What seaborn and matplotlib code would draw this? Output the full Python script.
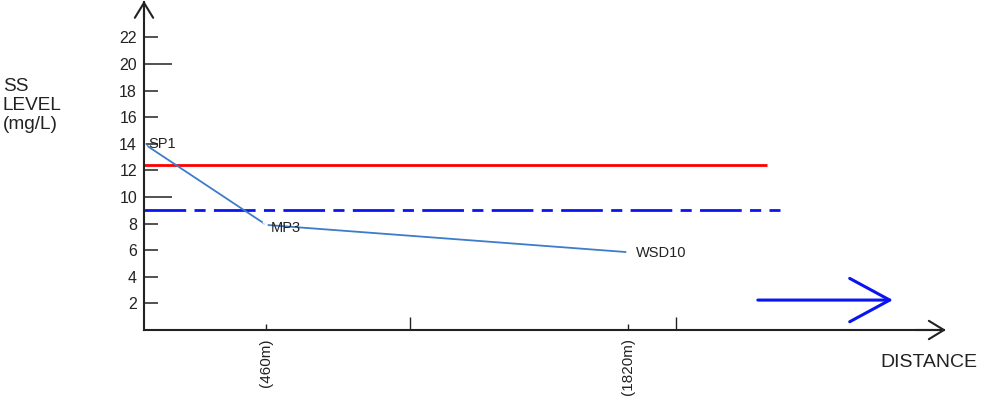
import seaborn as sns
import matplotlib.pyplot as plt

# Sampling points along the river
stations = ["SP1", "MP3", "WSD10"]
distance_m = [0, 460, 1820]
ss_level = [14.0, 7.9, 5.85]

# Reference levels (red = limit, blue dash-dot = second criterion)
red_level = 12.4
red_end_m = 2342
blue_level = 9.0
blue_end_m = 2391

# Axis ticks
y_ticks = [2, 4, 6, 8, 10, 12, 14, 16, 18, 20, 22]
x_label_ticks = [460, 1820]
x_label_text = ["(460m)", "(1820m)"]
x_other_ticks = [1000, 2000]

sns.set_theme(style="white")
plt.rcParams['font.family'] = ['Liberation Sans', 'DejaVu Sans']

fig = plt.figure(figsize=(10, 3.98), dpi=100)
ax = fig.add_axes([0.144, (398 - 330) / 398, 0.8, 328 / 398])
ax.set_xlim(0, 3008)
ax.set_ylim(0, 24.66)

# Reference lines
ax.plot([0, red_end_m], [red_level, red_level], color="#ff0000", lw=2.0,
        solid_capstyle="butt", clip_on=False)
ax.plot([0, blue_end_m], [blue_level, blue_level], color="#0a14f0", lw=2.0,
        dashes=(15, 3, 4, 3), clip_on=False)

# SS level line
sns.lineplot(x=distance_m, y=ss_level, ax=ax, color="#3d7cc9", lw=1.3,
             marker="x", markersize=4, markeredgewidth=1.2, clip_on=False)

offsets = [(4, 0), (4, -3), (8, -1)]
for name, xd, yd, off in zip(stations, distance_m, ss_level, offsets):
    ax.annotate(name, (xd, yd), xytext=off, textcoords="offset pixels",
                ha="left", va="center", fontsize=10.5, color="#222222")

# Axes styling
for side in ["top", "right"]:
    ax.spines[side].set_visible(False)
for side in ["left", "bottom"]:
    ax.spines[side].set_color("#222222")
    ax.spines[side].set_linewidth(1.5)

ax.set_yticks(y_ticks)
ax.set_yticklabels([str(v) for v in y_ticks])
ax.tick_params(axis="y", left=True, direction="in", length=10, width=1.1,
               pad=5, labelsize=11.5, color="#222222", labelcolor="#222222")
for tick in ax.yaxis.get_major_ticks():
    loc = tick.get_loc()
    if loc in (10, 20):
        tick.tick1line.set_markersize(20)
    if loc in (16, 20):
        tick.tick1line.set_color("#7a2a2a")

ax.set_xticks(x_label_ticks)
ax.set_xticklabels(x_label_text, rotation=90)
ax.set_xticks(x_other_ticks, minor=True)
ax.tick_params(axis="x", which="major", bottom=True, direction="in",
               length=4.3, width=1.0, pad=6, labelsize=11,
               color="#222222", labelcolor="#222222")
ax.tick_params(axis="x", which="minor", bottom=True, direction="in",
               length=9.4, width=1.0, color="#222222")

# Axis arrowheads
ax.annotate("", xy=(0, 24.75), xytext=(0, 23.5), annotation_clip=False,
            arrowprops=dict(arrowstyle="->,head_length=0.9,head_width=0.55",
                            color="#222222", lw=1.5, shrinkA=0, shrinkB=0))
ax.annotate("", xy=(3015, 0), xytext=(2900, 0), annotation_clip=False,
            arrowprops=dict(arrowstyle="->,head_length=0.9,head_width=0.55",
                            color="#222222", lw=1.5, shrinkA=0, shrinkB=0))

# Flow direction arrow
ax.annotate("", xy=(2816, 2.25), xytext=(2308, 2.25), annotation_clip=False,
            arrowprops=dict(arrowstyle="->,head_length=2.4,head_width=1.3",
                            color="#0a14f0", lw=2.2, shrinkA=0, shrinkB=0))

# Axis titles
fig.text(0.003, 0.735, "SS\nLEVEL\n(mg/L)", ha="left", va="center",
         fontsize=13.7, color="#222222", linespacing=1.12)
fig.text(0.88, 0.088, "DISTANCE", ha="left", va="center",
         fontsize=14, color="#222222")

fig.savefig("out.png", dpi=100)
